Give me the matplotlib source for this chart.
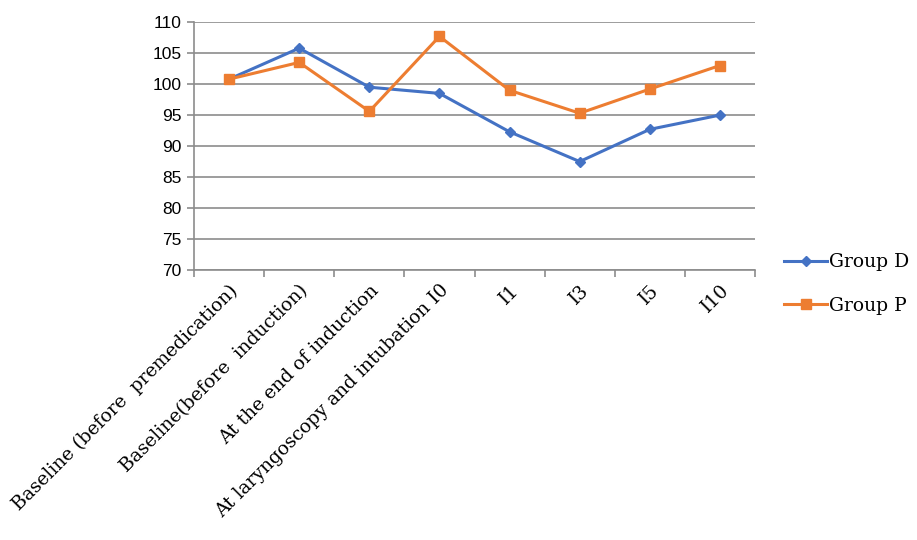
import matplotlib.pyplot as plt
import numpy as np

# data
categories = ["Baseline (before  premedication)", "Baseline(before  induction)",
              "At the end of induction", "At laryngoscopy and intubation I0",
              "I1", "I3", "I5", "I10"]
group_d = [100.8, 105.8, 99.5, 98.5, 92.3, 87.5, 92.7, 95.0]
group_p = [100.8, 103.5, 95.6, 107.7, 99.0, 95.3, 99.2, 103.0]
yticks = [70, 75, 80, 85, 90, 95, 100, 105, 110]

fig = plt.figure(figsize=(9.17, 5.4), dpi=100)
ax = fig.add_axes([0.2116, 0.5, 0.6117, 0.459])

x = np.arange(len(categories))
ln_d, = ax.plot(x, group_d, color="#4472C4", marker="D", markersize=5, linewidth=2.2, label="Group D")
ln_p, = ax.plot(x, group_p, color="#ED7D31", marker="s", markersize=7, linewidth=2.2, label="Group P")

ax.set_xlim(-0.5, len(categories) - 0.5)
ax.set_ylim(70, 110)
ax.set_yticks(yticks)
ax.set_yticklabels([str(v) for v in yticks], fontsize=12.5, family="Liberation Sans")
ax.yaxis.grid(True, color="#8c8c8c", linewidth=1.2)
ax.set_axisbelow(True)

ax.set_xticks(x)
ax.set_xticklabels(categories, rotation=45, ha="right", rotation_mode="anchor",
                   fontsize=13.5, family="DejaVu Serif")
ax.tick_params(axis="x", length=0, pad=8)
ax.set_xticks(np.arange(-0.5, len(categories)), minor=True)
ax.tick_params(axis="x", which="minor", length=5, color="#8c8c8c", width=1.2)
ax.tick_params(axis="y", length=5, color="#8c8c8c", width=1.2, pad=4)

for s in ["top", "right"]:
    ax.spines[s].set_visible(False)
for s in ["left", "bottom"]:
    ax.spines[s].set_color("#8c8c8c")
    ax.spines[s].set_linewidth(1.2)

fig.legend(handles=[ln_d, ln_p], loc="center left", bbox_to_anchor=(0.855, 0.474),
           frameon=False, prop={"family": "DejaVu Serif", "size": 13.5},
           handlelength=2.3, handletextpad=0.1, labelspacing=1.35, borderaxespad=0,
           borderpad=0)

fig.savefig("out.png", dpi=100)
